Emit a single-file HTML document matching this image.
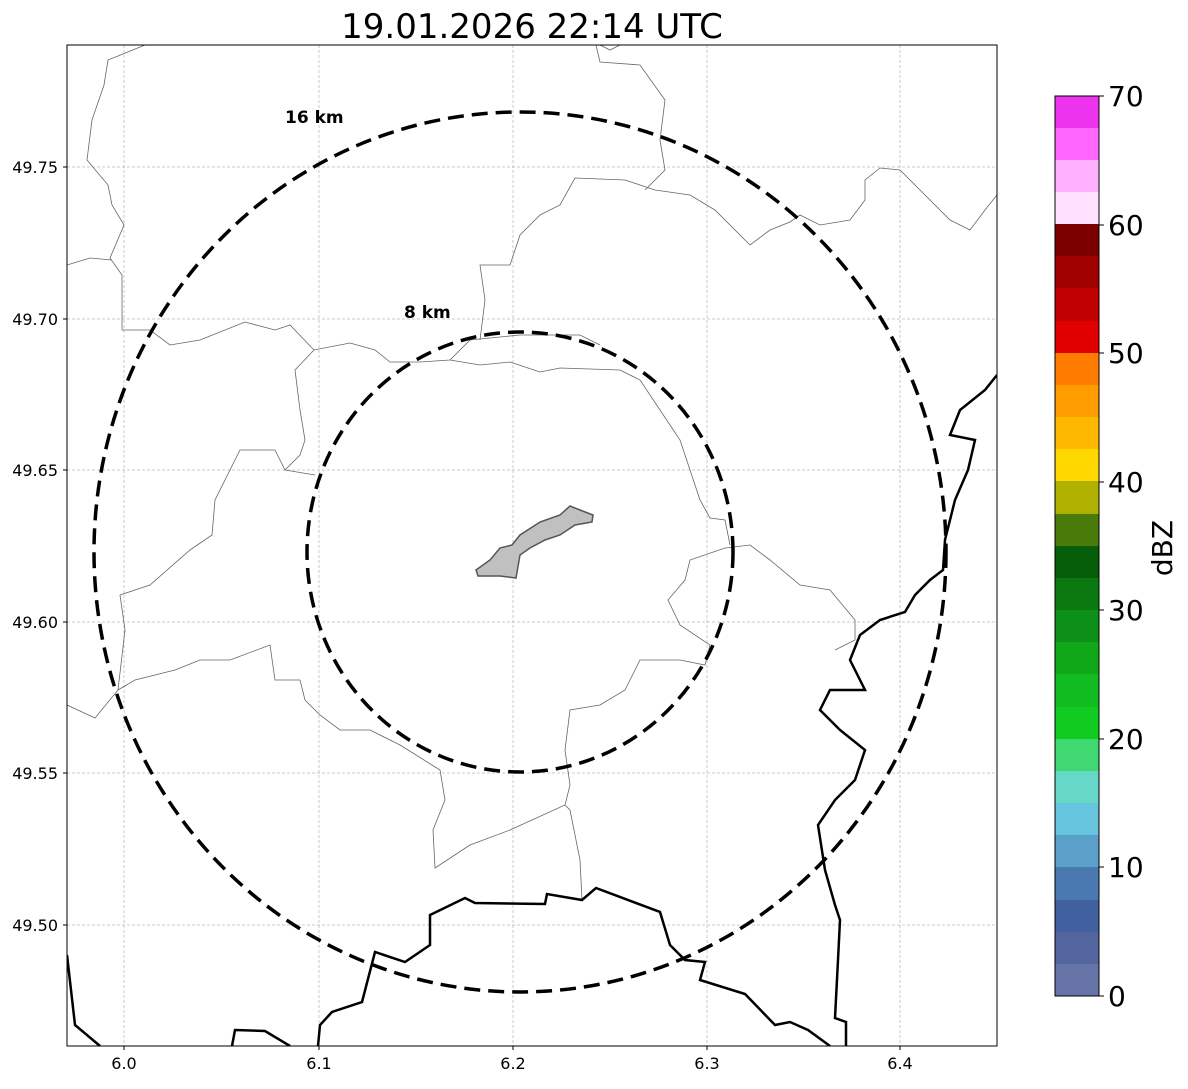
<!DOCTYPE html>
<html><head><meta charset="utf-8"><style>
body{margin:0;background:#fff;}
svg text{font-family:"DejaVu Sans","Liberation Sans",sans-serif;}
</style></head><body>
<svg width="1188" height="1084" viewBox="0 0 1188 1084" xmlns="http://www.w3.org/2000/svg">
<rect width="1188" height="1084" fill="#fff"/>
<text x="532" y="38" font-size="34" text-anchor="middle">19.01.2026 22:14 UTC</text>
<defs><clipPath id="c"><rect x="67" y="45" width="930" height="1001"/></clipPath></defs>
<g clip-path="url(#c)">
<g stroke="#bbb" stroke-width="0.8" stroke-dasharray="3,2">
<line x1="124" y1="45" x2="124" y2="1046"/><line x1="319" y1="45" x2="319" y2="1046"/>
<line x1="513" y1="45" x2="513" y2="1046"/><line x1="707" y1="45" x2="707" y2="1046"/>
<line x1="900" y1="45" x2="900" y2="1046"/>
<line x1="67" y1="167" x2="997" y2="167"/><line x1="67" y1="319" x2="997" y2="319"/>
<line x1="67" y1="470" x2="997" y2="470"/><line x1="67" y1="622" x2="997" y2="622"/>
<line x1="67" y1="773" x2="997" y2="773"/><line x1="67" y1="925" x2="997" y2="925"/>
</g>
<g fill="none" stroke="#666" stroke-width="0.8">
<polyline points="145,45 108,60 104,85 92,120 87,160 108,185 112,205 124,225 110,258 122,275 122,330 150,330 170,345 200,340 245,322 275,330 290,325 314,350 350,343 375,350 390,362 420,362 450,360 470,340 520,335 580,335 600,345"/>
<polyline points="67,265 90,258 112,260"/>
<polyline points="314,350 295,370 300,410 305,440 300,455 285,470 315,475"/>
<polyline points="285,470 275,450 240,450 215,500 212,535 190,550 150,585 120,595 125,630 118,690 95,718 67,705"/>
<polyline points="118,690 135,680 175,670 200,660 230,660 270,645 275,680 300,680 305,700 320,715 340,730 370,730 400,745 440,770 445,800 433,830 435,868 470,845 510,830 565,805 570,785 565,750 570,710 600,705 625,690 640,660 680,660 705,665 710,645 680,625 668,600 685,580 690,560 725,548 750,545 770,560 800,585 830,590 855,620 855,640 835,650"/>
<polyline points="565,805 570,810 580,860 582,900"/>
<polyline points="450,360 480,365 510,362 540,372 560,368 620,370 640,380 660,410 680,440 690,470 700,500 710,518 725,520 730,545"/>
<polyline points="480,340 485,300 480,265 510,265 520,235 540,215 560,205 575,178 625,180 655,190 690,195 715,210 750,245 770,230 790,222 800,215 820,225 850,220 865,200 865,180 880,168 900,170 920,190 950,220 970,230 985,210 997,195"/>
<polyline points="645,190 665,170 660,140 665,100 640,65 600,62 596,45"/>
<polyline points="600,45 610,50 620,45"/>
</g>
<g fill="none" stroke="#000" stroke-width="2.5">
<polyline points="67,955 75,1025 100,1046"/>
<polyline points="232,1046 235,1030 265,1031 290,1046"/>
<polyline points="318,1046 320,1025 332,1012 362,1002 375,952 405,962 430,945 430,915 465,898 475,903 545,904 547,894 582,900 596,888 660,912 670,945 685,960 705,962 700,980 745,994 775,1025 790,1022 808,1030 830,1046"/>
<polyline points="997,375 985,390 960,410 950,435 975,440 968,470 955,500 945,540 943,570 930,580 915,595 905,612 880,620 860,635 850,660 865,690 830,690 820,710 840,730 865,750 855,780 835,800 818,825 825,870 835,905 840,920 838,960 835,1018 846,1022 846,1046"/>
</g>
<path d="M476,570 L490,560 L500,548 L512,545 L520,535 L540,522 L560,515 L570,506 L580,510 L593,515 L592,522 L575,525 L560,535 L545,540 L530,548 L520,555 L516,578 L500,576 L478,576 Z" fill="#c0c0c0" stroke="#555" stroke-width="1.5"/>
<ellipse cx="520" cy="552" rx="426" ry="440" fill="none" stroke="#000" stroke-width="3.5" stroke-dasharray="16,8"/>
<ellipse cx="520" cy="552" rx="213" ry="220" fill="none" stroke="#000" stroke-width="3.5" stroke-dasharray="16,8"/>
</g>
<text x="285" y="123" font-size="17" font-weight="bold">16 km</text>
<text x="404" y="318" font-size="17" font-weight="bold">8 km</text>
<rect x="67" y="45" width="930" height="1001" fill="none" stroke="#000" stroke-width="1"/>
<g font-size="16" text-anchor="middle">
<text x="124" y="1069">6.0</text><text x="319" y="1069">6.1</text><text x="513" y="1069">6.2</text><text x="707" y="1069">6.3</text><text x="900" y="1069">6.4</text>
</g>
<g font-size="16" text-anchor="end">
<text x="58" y="173">49.75</text><text x="58" y="325">49.70</text><text x="58" y="476">49.65</text><text x="58" y="628">49.60</text><text x="58" y="779">49.55</text><text x="58" y="931">49.50</text>
</g>
<g stroke="#000"><line x1="124" y1="1046" x2="124" y2="1050"/><line x1="319" y1="1046" x2="319" y2="1050"/><line x1="513" y1="1046" x2="513" y2="1050"/><line x1="707" y1="1046" x2="707" y2="1050"/><line x1="900" y1="1046" x2="900" y2="1050"/>
<line x1="63" y1="167" x2="67" y2="167"/><line x1="63" y1="319" x2="67" y2="319"/><line x1="63" y1="470" x2="67" y2="470"/><line x1="63" y1="622" x2="67" y2="622"/><line x1="63" y1="773" x2="67" y2="773"/><line x1="63" y1="925" x2="67" y2="925"/></g>
<g>
<rect x="1055" y="96" width="44" height="33" fill="#ee33ee"/>
<rect x="1055" y="128" width="44" height="33" fill="#ff66ff"/>
<rect x="1055" y="160" width="44" height="33" fill="#ffb0ff"/>
<rect x="1055" y="192" width="44" height="33" fill="#ffe0ff"/>
<rect x="1055" y="224" width="44" height="33" fill="#7a0000"/>
<rect x="1055" y="256" width="44" height="33" fill="#a00000"/>
<rect x="1055" y="288" width="44" height="33" fill="#c00000"/>
<rect x="1055" y="321" width="44" height="33" fill="#e00000"/>
<rect x="1055" y="353" width="44" height="33" fill="#ff7c00"/>
<rect x="1055" y="385" width="44" height="33" fill="#ff9c00"/>
<rect x="1055" y="417" width="44" height="33" fill="#ffb800"/>
<rect x="1055" y="449" width="44" height="33" fill="#ffd800"/>
<rect x="1055" y="481" width="44" height="33" fill="#b0b000"/>
<rect x="1055" y="514" width="44" height="33" fill="#4a7a0a"/>
<rect x="1055" y="546" width="44" height="33" fill="#065e0a"/>
<rect x="1055" y="578" width="44" height="33" fill="#0a7a10"/>
<rect x="1055" y="610" width="44" height="33" fill="#0c9018"/>
<rect x="1055" y="642" width="44" height="33" fill="#10a818"/>
<rect x="1055" y="674" width="44" height="33" fill="#10bc20"/>
<rect x="1055" y="707" width="44" height="33" fill="#10cc20"/>
<rect x="1055" y="739" width="44" height="33" fill="#40d870"/>
<rect x="1055" y="771" width="44" height="33" fill="#66d8c8"/>
<rect x="1055" y="803" width="44" height="33" fill="#66c4dc"/>
<rect x="1055" y="835" width="44" height="33" fill="#5aa0c8"/>
<rect x="1055" y="867" width="44" height="33" fill="#4a78b0"/>
<rect x="1055" y="900" width="44" height="33" fill="#4060a0"/>
<rect x="1055" y="932" width="44" height="33" fill="#52659c"/>
<rect x="1055" y="964" width="44" height="32" fill="#6673a6"/>
<rect x="1055" y="96" width="44" height="900" fill="none" stroke="#000" stroke-width="1"/>
</g>
<g stroke="#000"><line x1="1099" y1="96" x2="1104" y2="96"/><line x1="1099" y1="225" x2="1104" y2="225"/><line x1="1099" y1="353" x2="1104" y2="353"/><line x1="1099" y1="482" x2="1104" y2="482"/><line x1="1099" y1="610" x2="1104" y2="610"/><line x1="1099" y1="739" x2="1104" y2="739"/><line x1="1099" y1="867" x2="1104" y2="867"/><line x1="1099" y1="996" x2="1104" y2="996"/></g>
<g font-size="28">
<text x="1108" y="106">70</text><text x="1108" y="235">60</text><text x="1108" y="363">50</text><text x="1108" y="492">40</text><text x="1108" y="620">30</text><text x="1108" y="749">20</text><text x="1108" y="877">10</text><text x="1108" y="1006">0</text>
</g>
<text x="1172" y="548" font-size="28" text-anchor="middle" transform="rotate(-90 1172 548)">dBZ</text>
</svg>
</body></html>
